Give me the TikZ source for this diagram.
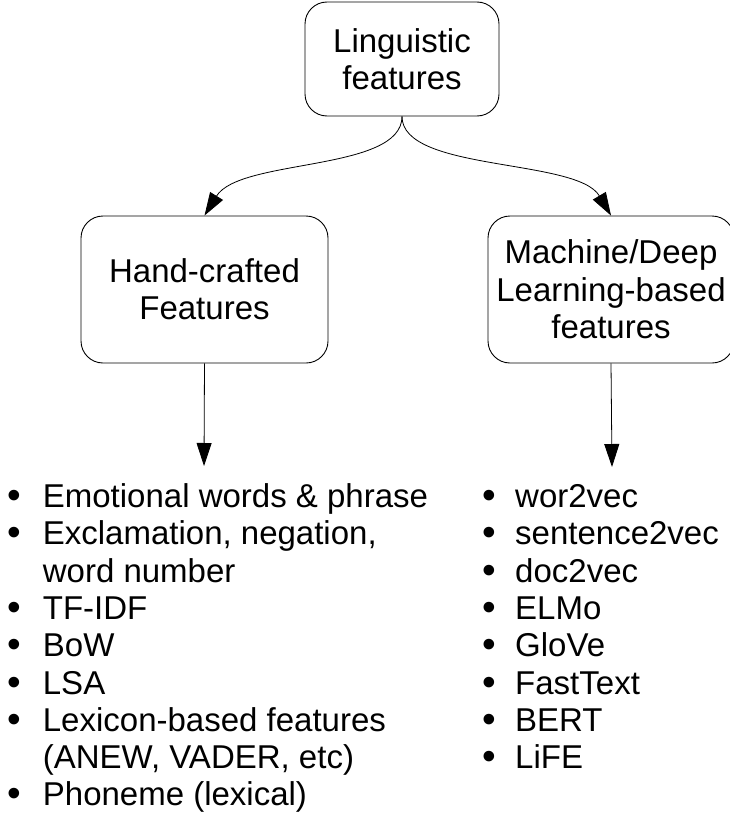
\documentclass[tikz,border=0pt]{standalone}
\usepackage{fontspec}
\setmainfont{Liberation Sans}
\usetikzlibrary{arrows.meta}
\begin{document}
\begin{tikzpicture}[x=1pt,y=-1pt,
  boxnode/.style={draw, line width=0.9pt, rounded corners=22pt, inner sep=0pt, align=center,
    font=\fontsize{33}{37.3}\selectfont},
  arr/.style={line width=0.8pt, -{Triangle[length=23pt,width=15pt]}},
  itemtext/.style={inner sep=0pt, anchor=base west, font=\fontsize{33}{37.3}\selectfont},
  bulletnode/.style={inner sep=0pt, anchor=base, font=\fontsize{39}{40}\selectfont}]
\useasboundingbox (0,0) rectangle (729,816);
\fill[white] (0,0) rectangle (729,816);

\node[boxnode, minimum width=194pt, minimum height=114pt] (top) at (402,59) {Linguistic\\features};
\node[boxnode, minimum width=247pt, minimum height=147pt] (hand) at (204.5,289.5) {Hand-crafted\\Features};
\node[boxnode, minimum width=246pt, minimum height=147pt] (ml) at (611,289.5) {Machine/Deep\\Learning-based\\features};

\draw[arr] (top.south) .. controls (402,172) and (240,158) .. (hand.north);
\draw[arr] (top.south) .. controls (402,172) and (577,158) .. (ml.north);

\coordinate (handend) at (204,466);
\coordinate (mlend) at (612,467);
\draw[arr] (hand.south) -- (handend);
\draw[arr] (ml.south) -- (mlend);

% left list
\foreach \b/\t [count=\i] in {1/{Emotional words \& phrase},1/{Exclamation, negation,},0/{word number},1/{TF-IDF},1/{BoW},1/{LSA},1/{Lexicon-based features},0/{(ANEW, VADER, etc)},1/{Phoneme (lexical)}}{
  \node[itemtext] (hl\i) at (42.7,{507.5+(\i-1)*37.3}) {\t};
  \ifnum\b=1 \node[bulletnode] (hb\i) at (14,{508.5+(\i-1)*37.3}) {•};\fi
}
% right list
\foreach \t [count=\i] in {wor2vec,sentence2vec,doc2vec,ELMo,GloVe,FastText,BERT,LiFE}{
  \node[itemtext] (ml\i) at (515,{507.5+(\i-1)*37.3}) {\t};
  \node[bulletnode] (mb\i) at (489.3,{508.5+(\i-1)*37.3}) {•};
}
\end{tikzpicture}
\end{document}
